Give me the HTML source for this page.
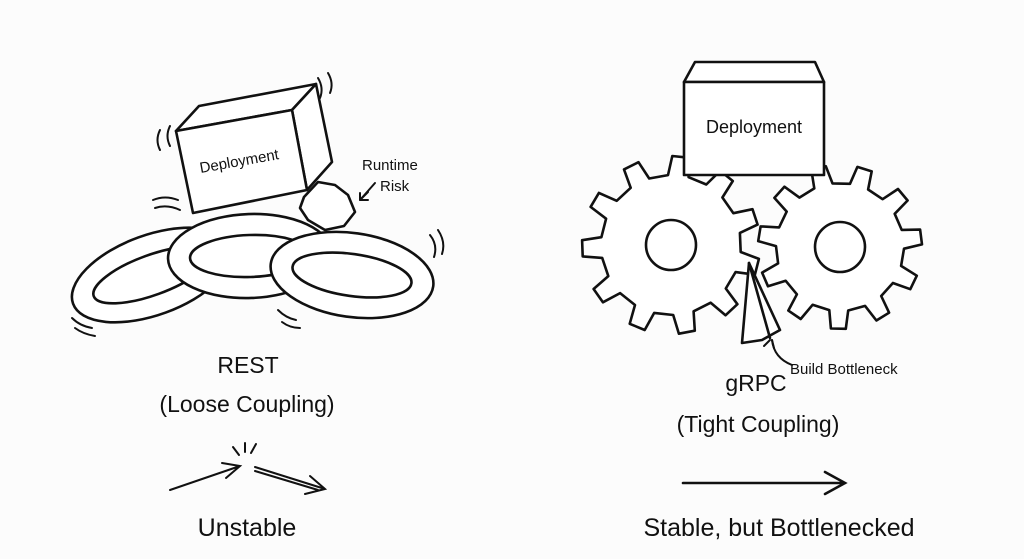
<!DOCTYPE html>
<html><head><meta charset="utf-8"><style>
html,body{margin:0;padding:0;background:#fcfcfc;}
svg{display:block}
text{font-family:"Liberation Sans",sans-serif;fill:#111}
</style></head><body>
<svg id="s" width="1024" height="559" viewBox="0 0 1024 559" xmlns="http://www.w3.org/2000/svg">
<rect width="1024" height="559" fill="#fcfcfc"/>
<g fill="#fff" stroke="#111" stroke-width="2.6" stroke-linejoin="round" stroke-linecap="round">
<!-- chains -->
<g transform="translate(152,275) rotate(-20)"><ellipse rx="84" ry="40"/><ellipse rx="62" ry="20"/></g>
<g transform="translate(250,256) rotate(-2)"><ellipse rx="82" ry="42"/><ellipse rx="60" ry="21" /></g>
<g transform="translate(352,275) rotate(8)"><ellipse rx="82" ry="42"/><ellipse rx="60" ry="21"/></g>
<!-- left box -->
<polygon points="176,131 199,106 316,84 292,110"/>
<polygon points="292,110 316,84 332,162 307,190"/>
<polygon points="176,131 292,110 307,190 193,213"/>
<!-- rock -->
<polygon points="304,197 318,182 335,185 348,195 355,212 344,226 325,230 308,220 300,208"/>
<!-- gears -->
<path id="g1"/><circle cx="671" cy="245" r="25"/>
<path id="g2"/><circle cx="840" cy="247" r="25"/>
<!-- wedge -->
<polygon points="749,263 742,343 762,340 780,330"/>
<line x1="749" y1="263" x2="770" y2="338"/>
<!-- right box -->
<polygon points="684,82 695,62 815,62 824,82"/>
<rect x="684" y="82" width="140" height="93"/>
</g>
<g fill="none" stroke="#111" stroke-width="2" stroke-linecap="round">
<path d="M160 130 q-5 10 0 20 M170 126 q-5 10 0 20"/>
<path d="M318 78 q6 10 2 20 M328 73 q6 10 2 20"/>
<path d="M153 200 q12-5 25 0 M155 208 q12-4 25 2"/>
<path d="M430 235 q8 10 4 22 M438 230 q8 12 4 24"/>
<path d="M72 318 q8 8 20 10 M75 328 q8 6 20 8"/>
<path d="M278 310 q8 8 18 10 M282 322 q8 6 18 6"/>
<path d="M368 192 l-8 8 M360 200 l8 0 M360 200 l0 -7" />
<path d="M375 183 l-15 17"/>
<path d="M772 340 q2 18 20 25"/>
<path d="M764 346 l6-6 M772 340 l2 8"/>
<path d="M170 490 L240 466 M222 463 L240 466 L226 478"/>
<path d="M255 467 L325 489 M255 471 L318 490 M310 476 L325 489 L305 494"/>
<path d="M233 447 l6 8 M245 443 l0 9 M256 444 l-5 9"/>
<path d="M683 483 L845 483 M825 472 L845 483 L825 494" stroke-width="2.6"/>
</g>
<text x="240" y="166" font-size="15" transform="rotate(-10 240 166)" text-anchor="middle">Deployment</text>
<text x="362" y="170" font-size="15">Runtime</text>
<text x="380" y="191" font-size="15">Risk</text>
<text x="754" y="133" font-size="18" text-anchor="middle">Deployment</text>
<text x="790" y="374" font-size="15">Build Bottleneck</text>
<text x="248" y="373" font-size="23" text-anchor="middle">REST</text>
<text x="247" y="412" font-size="23" text-anchor="middle">(Loose Coupling)</text>
<text x="247" y="536" font-size="25" text-anchor="middle">Unstable</text>
<text x="756" y="391" font-size="23" text-anchor="middle">gRPC</text>
<text x="758" y="432" font-size="23" text-anchor="middle">(Tight Coupling)</text>
<text x="779" y="536" font-size="25" text-anchor="middle">Stable, but Bottlenecked</text>
</svg>
<script>
function gear(cx,cy,ro,ri,n,off){let d="";for(let i=0;i<n;i++){const a=2*Math.PI*i/n+off,s=2*Math.PI/n;
const pts=[[ri,a],[ro,a+s*0.1],[ro,a+s*0.42],[ri,a+s*0.52]];
pts.forEach((p,j)=>{d+=(i==0&&j==0?"M":"L")+(cx+p[0]*Math.cos(p[1])).toFixed(1)+" "+(cy+p[0]*Math.sin(p[1])).toFixed(1)+" ";});}
return d+"Z";}
document.getElementById("g1").setAttribute("d",gear(671,245,89,70,11,0.1));
document.getElementById("g2").setAttribute("d",gear(840,247,82,64,11,0.3));
</script>
</body></html>
